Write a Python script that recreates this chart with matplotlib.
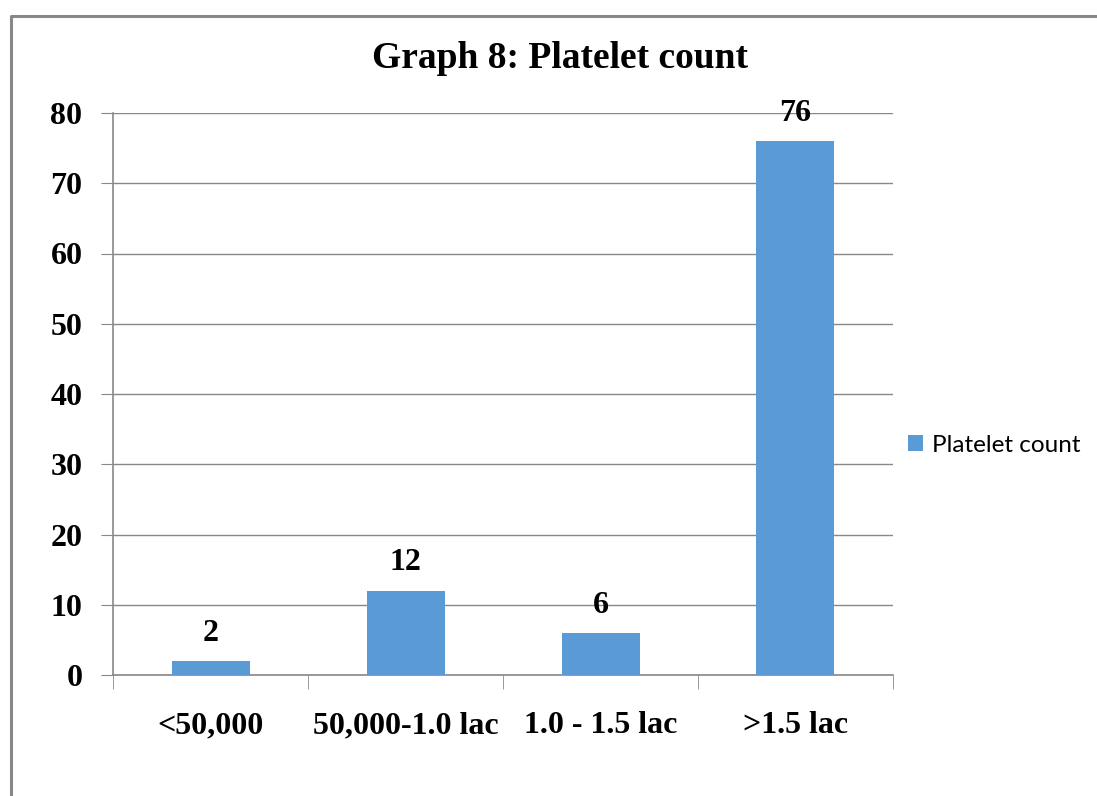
import matplotlib.pyplot as plt
from matplotlib.lines import Line2D
import numpy as np

categories = ['<50,000', '50,000-1.0 lac', '1.0 - 1.5 lac', '>1.5 lac']
counts = [2, 12, 6, 76]
y_ticks = [0, 10, 20, 30, 40, 50, 60, 70, 80]

plt.rcParams['font.family'] = 'Liberation Serif'

W, H = 1097, 796
fig = plt.figure(figsize=(W / 100, H / 100), dpi=100)
ax = fig.add_axes([113 / W, 1 - 675 / H, (893 - 113) / W, (675 - 113) / H])

x = np.arange(len(categories))
bar_color = '#5B9BD5'
bars = ax.bar(x, counts, width=0.4, color=bar_color, label='Platelet count', zorder=3)

for rect, v in zip(bars, counts):
    ax.text(rect.get_x() + rect.get_width() / 2, v + 1.9, str(v),
            ha='center', va='bottom', fontsize=23, fontweight='bold')

ax.set_xlim(-0.5, len(categories) - 0.5)
ax.set_ylim(0, 80)
ax.set_yticks(y_ticks)
ax.set_yticklabels([str(t) for t in y_ticks], fontsize=23, fontweight='bold')
ax.yaxis.grid(True, color='#888888', linewidth=1, zorder=0)
ax.tick_params(axis='y', length=9, color='#888888', pad=13)

# category labels sit between boundary ticks
ax.set_xticks(x)
ax.set_xticklabels(categories, fontsize=23, fontweight='bold')
ax.tick_params(axis='x', length=0, pad=26)
ax.set_xticks(np.arange(-0.5, len(categories)), minor=True)
ax.tick_params(axis='x', which='minor', length=10, color='#888888')

for side in ['top', 'right']:
    ax.spines[side].set_visible(False)
for side in ['left', 'bottom']:
    ax.spines[side].set_color('#888888')
    ax.spines[side].set_linewidth(1.2)

fig.text(560 / W, 1 - 59 / H, 'Graph 8: Platelet count', ha='center', va='center',
         fontsize=27, fontweight='bold')

ax.legend(loc='center left', bbox_to_anchor=(1.0, 0.409), frameon=False,
          prop={'family': 'Lato', 'size': 17.5}, handlelength=0.65, handleheight=0.65,
          handletextpad=0.35, borderaxespad=0.2)

# outer frame on the left and top
fig.add_artist(Line2D([11 / W, 11 / W, 1.0], [0, 1 - 16 / H, 1 - 16 / H],
                      color='#888888', linewidth=2.2))

fig.savefig('out.png', dpi=100)
